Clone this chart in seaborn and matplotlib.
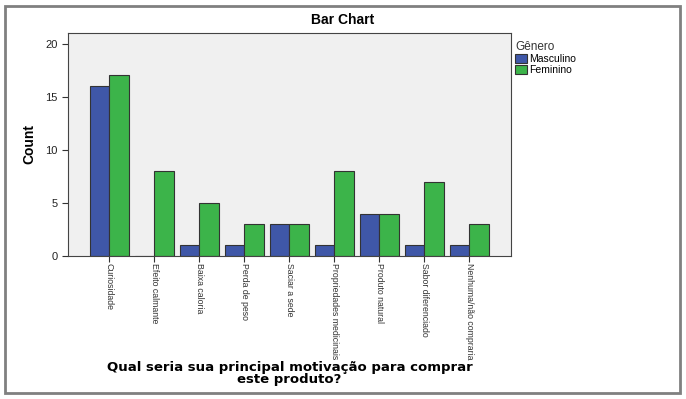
import pandas as pd
import matplotlib.pyplot as plt
import matplotlib.patches as mpatches
import seaborn as sns

categories = ["Curiosidade", "Efeito calmante", "Baixa caloria", "Perda de peso",
              "Saciar a sede", "Propriedades medicinais", "Produto natural",
              "Sabor diferenciado", "Nenhuma/não compraria"]
masculino = [16, 0, 1, 1, 3, 1, 4, 1, 1]
feminino = [17, 8, 5, 3, 3, 8, 4, 7, 3]
generos = ["Masculino", "Feminino"]
cores = ["#3F57A8", "#3CB44A"]

df = pd.DataFrame({
    "motivo": categories * 2,
    "Gênero": [generos[0]] * len(categories) + [generos[1]] * len(categories),
    "Count": masculino + feminino,
})

plt.rcParams['font.family'] = ['Liberation Sans', 'DejaVu Sans']

fig = plt.figure(figsize=(6.86, 3.99), dpi=100)
ax = fig.add_axes([0.0991, 0.3584, 0.6454, 0.559])

sns.barplot(data=df, x="motivo", y="Count", hue="Gênero", order=categories,
            hue_order=generos, palette=cores, saturation=1, width=0.86, gap=0,
            edgecolor="#333333", linewidth=0.8, ax=ax, legend=False)

ax.set_facecolor("#F0F0F0")
ax.set_xlim(-0.92, 8.92)
ax.set_ylim(0, 21)
ax.set_yticks([0, 5, 10, 15, 20])
ax.tick_params(axis='y', labelsize=8, length=4, colors="#333333", labelcolor="#222222")
ax.tick_params(axis='x', labelsize=6.3, length=4, pad=1, colors="#333333")
for lbl in ax.get_xticklabels():
    lbl.set_rotation(-90)
    lbl.set_va('top')
    lbl.set_ha('center')
for s in ax.spines.values():
    s.set_color("#444444")
    s.set_linewidth(0.8)

ax.set_xlabel("")
ax.set_ylabel("Count", fontsize=10, fontweight='bold')
ax.yaxis.set_label_coords(-0.072, 0.5)

fig.text(0.5, 0.95, "Bar Chart", ha='center', va='center', fontsize=10, fontweight='bold')
fig.text(0.422, 0.065, "Qual seria sua principal motivação para comprar\neste produto?",
         ha='center', va='center', fontsize=9.5, fontweight='bold',
         family=['DejaVu Sans'], linespacing=0.9)

handles = [mpatches.Patch(facecolor=c, edgecolor="#333333", linewidth=0.8, label=g)
           for g, c in zip(generos, cores)]
leg = fig.legend(handles=handles, title="Gênero", loc='upper left',
                 bbox_to_anchor=(0.74, 0.915), frameon=False, fontsize=7.5,
                 title_fontsize=8.5, handlelength=1.2, handleheight=0.9,
                 handletextpad=0.2, labelspacing=0.1, borderpad=0.2)
leg._legend_box.align = "left"
leg.get_title().set_color("#333333")

fig.patches.append(mpatches.Rectangle((5 / 686, 6 / 399), 675 / 686, 387 / 399,
                                      transform=fig.transFigure, fill=False,
                                      edgecolor="#808080", linewidth=2))

fig.savefig("out.png", dpi=100)
